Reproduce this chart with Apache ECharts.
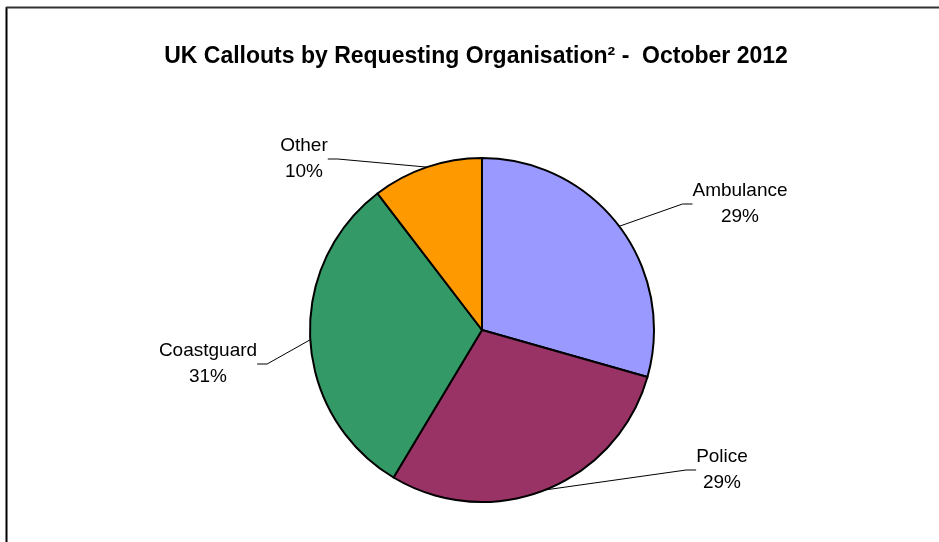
<!DOCTYPE html>
<html>
<head>
<meta charset="utf-8">
<script src="https://cdn.jsdelivr.net/npm/echarts@6/dist/echarts.min.js"></script>
<style>
html,body{margin:0;padding:0;background:#fff;}
#chart{width:939px;height:542px;}
</style>
</head>
<body>
<div id="chart"></div>
<script>
var categories = ['Ambulance', 'Police', 'Coastguard', 'Other'];
var shares = [29.4, 29.2, 31.0, 10.4];
var colors = ['#9999FF', '#993366', '#339966', '#FF9900'];
var labelSpots = {
  'Ambulance': [740, 204],
  'Police': [722, 470],
  'Coastguard': [208, 364],
  'Other': [304, 159]
};

var chart = echarts.init(document.getElementById('chart'), null, {renderer: 'canvas'});
var data = categories.map(function (c, i) {
  return {name: c, value: shares[i], itemStyle: {color: colors[i]}};
});

chart.setOption({
  animation: false,
  backgroundColor: '#ffffff',
  title: {
    text: 'UK Callouts by Requesting Organisation² -  October 2012',
    left: 471,
    top: 40,
    textAlign: 'center',
    textStyle: {
      fontFamily: 'Liberation Sans, Arial, sans-serif',
      fontWeight: 'bold',
      fontSize: 23,
      color: '#000'
    }
  },
  graphic: [
    {type: 'line', shape: {x1: 6.5, y1: 7, x2: 6.5, y2: 542}, style: {stroke: '#000', lineWidth: 2}},
    {type: 'line', shape: {x1: 6, y1: 7.5, x2: 939, y2: 7.5}, style: {stroke: '#333', lineWidth: 2}}
  ],
  series: [{
    type: 'pie',
    center: [482, 330],
    radius: [0, 172],
    startAngle: 90,
    clockwise: true,
    avoidLabelOverlap: false,
    emphasis: {disabled: true},
    itemStyle: {borderColor: '#000', borderWidth: 2},
    label: {
      show: true,
      position: 'outside',
      color: '#000',
      fontFamily: 'Liberation Sans, Arial, sans-serif',
      fontSize: 19,
      lineHeight: 26,
      align: 'center',
      formatter: function (p) { return p.name + '\n' + Math.round(p.value) + '%'; }
    },
    labelLine: {
      show: true,
      length: 20,
      length2: 10,
      lineStyle: {color: '#000', width: 1}
    },
    labelLayout: function (params) {
      var name = categories[params.dataIndex];
      var s = labelSpots[name];
      return {x: s[0], y: s[1], align: 'center', verticalAlign: 'middle'};
    },
    data: data
  }]
});
</script>
</body>
</html>
